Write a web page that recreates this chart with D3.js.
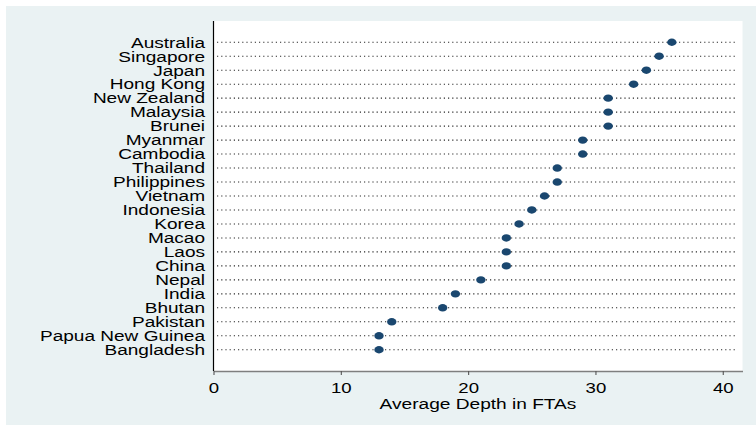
<!DOCTYPE html>
<html>
<head>
<meta charset="utf-8">
<script src="https://cdn.jsdelivr.net/npm/d3@7"></script>
<style>
  html, body { margin: 0; padding: 0; background: #ffffff; }
  svg { display: block; }
  text { font-family: "Liberation Sans", Arial, sans-serif; fill: #000; }
</style>
</head>
<body>
<svg id="chart" width="756" height="426"></svg>
<script>
const countries = ["Australia","Singapore","Japan","Hong Kong","New Zealand","Malaysia","Brunei","Myanmar","Cambodia","Thailand","Philippines","Vietnam","Indonesia","Korea","Macao","Laos","China","Nepal","India","Bhutan","Pakistan","Papua New Guinea","Bangladesh"];
const depth = [36,35,34,33,31,31,31,29,29,27,27,26,25,24,23,23,23,21,19,18,14,13,13];
const xTicks = [0,10,20,30,40];
const xTitle = "Average Depth in FTAs";

const W = 756, H = 426;
const plot = { left: 213.5, right: 742.5, top: 21, bottom: 371 };

const svg = d3.select("#chart");

// graph region background
svg.append("rect").attr("x", 6).attr("y", 6).attr("width", W - 6).attr("height", 419)
  .attr("fill", "#eaf2f3");
// plot region
svg.append("rect").attr("x", plot.left).attr("y", plot.top)
  .attr("width", plot.right - plot.left).attr("height", plot.bottom - plot.top)
  .attr("fill", "#ffffff");

const x = d3.scaleLinear().domain([0, 41.55]).range([plot.left, plot.right]);
const y = d3.scalePoint().domain(countries).range([plot.top, plot.bottom]).padding(1.52);

const data = countries.map((c, i) => ({ c, v: depth[i] }));

// dotted guide lines
svg.append("g").selectAll("line").data(data).join("line")
  .attr("x1", plot.left + 3.5).attr("x2", plot.right - 6)
  .attr("y1", d => y(d.c)).attr("y2", d => y(d.c))
  .attr("stroke", "#2a2a2a").attr("stroke-width", 1.1)
  .attr("stroke-dasharray", "1.2,3");

// y axis line
svg.append("line").attr("x1", plot.left).attr("x2", plot.left)
  .attr("y1", plot.top).attr("y2", plot.bottom)
  .attr("stroke", "#000").attr("stroke-width", 1.2);

// category labels
svg.append("g").selectAll("text").data(data).join("text")
  .attr("transform", d => `translate(205,${y(d.c) + 5.3}) scale(1.27,1)`)
  .attr("text-anchor", "end")
  .attr("font-size", "15px")
  .text(d => d.c);

// x axis
const xAxis = svg.append("g").attr("transform", `translate(0,${plot.bottom})`)
  .call(d3.axisBottom(x).tickValues(xTicks).tickSize(4).tickPadding(0).tickSizeOuter(0));
xAxis.select(".domain").attr("stroke", "#7f7f7f").attr("stroke-width", 1.4);
xAxis.selectAll(".tick line").attr("stroke", "#555").attr("stroke-width", 1.1);
xAxis.selectAll(".tick text")
  .attr("font-size", "15px").attr("fill", "#000")
  .attr("font-family", "Liberation Sans, Arial, sans-serif")
  .attr("dy", null).attr("y", 22.5)
  .attr("transform", "scale(1.24,1)");

// x axis title
svg.append("text")
  .attr("transform", `translate(${(plot.left + plot.right) / 2},408.5) scale(1.25,1)`)
  .attr("text-anchor", "middle")
  .attr("font-size", "15.3px")
  .text(xTitle);

// dots
svg.append("g").selectAll("ellipse").data(data).join("ellipse")
  .attr("cx", d => x(d.v)).attr("cy", d => y(d.c))
  .attr("rx", 4.7).attr("ry", 3.7)
  .attr("fill", "#1a476f");
</script>
</body>
</html>
